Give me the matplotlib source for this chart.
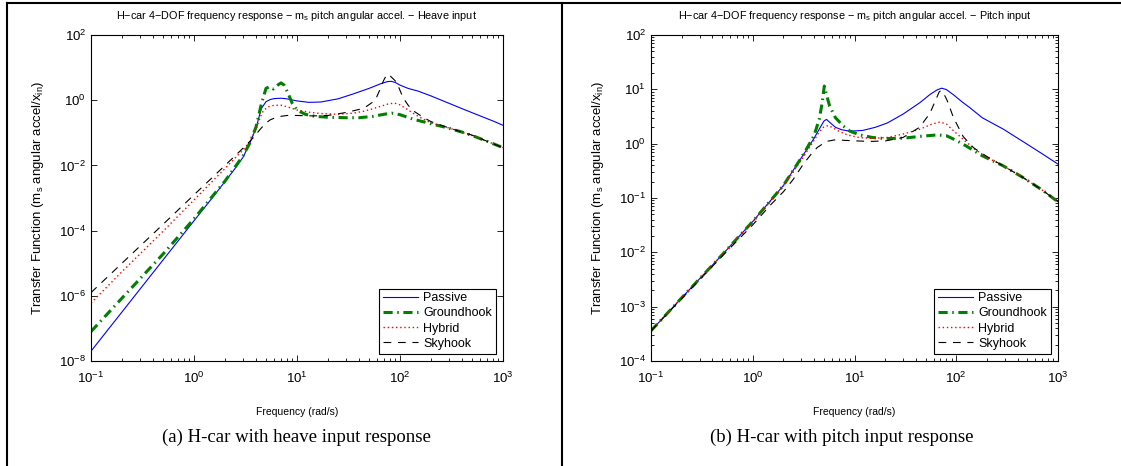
import matplotlib
matplotlib.use("Agg")
import matplotlib.pyplot as plt
from matplotlib.lines import Line2D
from matplotlib.ticker import NullLocator

plt.rcParams['font.family'] = ['Liberation Sans', 'DejaVu Sans']
plt.rcParams['mathtext.fontset'] = 'custom'
plt.rcParams['mathtext.rm'] = 'Liberation Sans'
plt.rcParams['mathtext.it'] = 'Liberation Sans:italic'

# ---- data: (a) heave input ----
heave_passive_w = [0.1, 0.2, 0.5, 1, 1.5, 2, 2.5, 3, 3.5, 4, 4.5, 5, 5.5, 6, 7, 8, 10, 13, 17, 25, 35, 50, 65, 75, 82, 90, 100, 120, 150, 200, 300, 400, 600, 800, 1000]
heave_passive_mag = [2.0e-8, 3.2e-7, 1.25e-5, 2.0e-4, 1.0e-3, 3.2e-3, 8e-3, 0.018, 0.05, 0.14, 0.55, 0.9, 1.05, 1.12, 1.15, 1.1, 0.95, 0.86, 0.88, 1.1, 1.55, 2.3, 3.2, 3.7, 3.8, 3.5, 2.9, 2.3, 1.9, 1.35, 0.8, 0.55, 0.33, 0.23, 0.17]

heave_ground_w = [0.1, 0.2, 0.5, 1, 1.5, 2, 3, 3.5, 4, 4.5, 5, 5.4, 5.9, 6.5, 7, 7.5, 8.2, 9, 10, 12, 15, 20, 30, 40, 55, 70, 83, 100, 135, 200, 282, 400, 515, 700, 1000]
heave_ground_mag = [8e-8, 8.5e-7, 1.9e-5, 2.3e-4, 1.1e-3, 3.3e-3, 0.02, 0.05, 0.15, 0.75, 2.3, 2.6, 2.2, 2.9, 3.4, 2.9, 1.6, 0.8, 0.5, 0.37, 0.32, 0.3, 0.29, 0.29, 0.32, 0.37, 0.4, 0.36, 0.26, 0.19, 0.145, 0.105, 0.08, 0.055, 0.035]

heave_hybrid_w = [0.1, 0.2, 0.5, 1, 1.5, 2, 2.6, 3, 3.5, 4, 4.4, 4.7, 5.2, 6, 7, 8, 10, 13, 17, 25, 35, 45, 60, 75, 88, 100, 120, 150, 200, 300, 500, 700, 1000]
heave_hybrid_mag = [6e-7, 5.5e-6, 9.5e-5, 8.7e-4, 3.2e-3, 8e-3, 0.019, 0.03, 0.055, 0.13, 0.3, 0.47, 0.62, 0.7, 0.7, 0.63, 0.5, 0.43, 0.39, 0.37, 0.4, 0.46, 0.6, 0.75, 0.82, 0.72, 0.5, 0.32, 0.2, 0.14, 0.082, 0.055, 0.035]

heave_sky_w = [0.1, 0.2, 0.5, 1, 1.5, 2, 2.6, 3, 3.5, 4, 4.5, 5, 5.5, 6.5, 8, 10, 14.4, 20, 30, 40, 47.5, 55, 59, 65, 69, 73, 77, 82, 88, 93, 100, 107, 120, 135, 160, 182, 200, 300, 400, 500, 700, 1000]
heave_sky_mag = [1.25e-6, 1.0e-5, 1.55e-4, 1.25e-3, 4.2e-3, 0.01, 0.022, 0.034, 0.055, 0.09, 0.14, 0.2, 0.25, 0.31, 0.34, 0.34, 0.33, 0.34, 0.42, 0.52, 0.65, 0.9, 1.2, 2.4, 3.9, 5.5, 6.3, 5.2, 4.2, 3.5, 2.0, 1.2, 0.7, 0.47, 0.33, 0.26, 0.22, 0.14, 0.105, 0.085, 0.055, 0.035]

# ---- data: (b) pitch input ----
pitch_passive_w = [0.1, 0.2, 0.5, 1, 1.5, 2, 3, 3.5, 4, 4.5, 5, 5.3, 5.8, 6.5, 7.5, 9, 12, 16, 21, 30, 44, 55, 65, 72, 80, 95, 115, 136, 180, 290, 450, 700, 1000]
pitch_passive_mag = [3.6e-4, 1.45e-3, 9e-3, 0.037, 0.09, 0.17, 0.55, 0.85, 1.25, 1.85, 2.6, 2.8, 2.4, 2.0, 1.8, 1.7, 1.75, 2.0, 2.4, 3.5, 5.7, 8.0, 9.8, 10.5, 9.9, 7.8, 5.8, 4.6, 3.0, 1.85, 1.1, 0.65, 0.42]

pitch_ground_w = [0.1, 0.2, 0.5, 1, 1.5, 2, 3, 3.5, 4, 4.5, 4.8, 5.05, 5.3, 5.7, 6.5, 7.8, 9, 11.3, 15, 20, 30, 44, 65, 80, 100, 126, 180, 290, 450, 700, 1000]
pitch_ground_mag = [3.6e-4, 1.45e-3, 9e-3, 0.037, 0.09, 0.17, 0.55, 0.9, 1.4, 2.8, 5.5, 11.5, 8.0, 4.9, 3.0, 2.1, 1.7, 1.45, 1.3, 1.24, 1.26, 1.36, 1.45, 1.4, 1.15, 0.9, 0.6, 0.39, 0.24, 0.14, 0.085]

pitch_hybrid_w = [0.1, 0.2, 0.5, 1, 1.5, 2, 3, 3.5, 4, 4.5, 5, 5.5, 6, 7, 8.5, 11, 15, 21, 30, 44, 58, 69, 80, 95, 117, 150, 200, 290, 450, 700, 1000]
pitch_hybrid_mag = [3.6e-4, 1.45e-3, 9e-3, 0.036, 0.088, 0.165, 0.5, 0.78, 1.15, 1.65, 2.05, 2.15, 2.0, 1.7, 1.45, 1.3, 1.25, 1.3, 1.5, 1.85, 2.3, 2.5, 2.3, 1.7, 1.2, 0.8, 0.56, 0.39, 0.24, 0.14, 0.085]

pitch_sky_w = [0.1, 0.2, 0.5, 1, 1.5, 2, 2.5, 3.14, 3.7, 4.3, 5.3, 6.5, 8, 11, 14, 20, 30, 43.6, 55, 62, 68, 71, 75, 81.5, 94, 117, 148, 200, 290, 450, 700, 1000]
pitch_sky_mag = [3.6e-4, 1.4e-3, 8.5e-3, 0.032, 0.075, 0.13, 0.22, 0.42, 0.62, 0.85, 1.1, 1.18, 1.15, 1.12, 1.1, 1.12, 1.3, 2.0, 3.6, 6.0, 9.0, 9.5, 8.5, 6.2, 3.0, 1.35, 0.84, 0.58, 0.39, 0.24, 0.14, 0.085]

labels = ['Passive', 'Groundhook', 'Hybrid', 'Skyhook']
titles = ['H\u2212car 4\u2212DOF frequency response \u2212 m$\\mathregular{_s}$ pitch angular accel. \u2212 Heave input',
          'H\u2212car 4\u2212DOF frequency response \u2212 m$\\mathregular{_s}$ pitch angular accel. \u2212 Pitch input']
captions = ['(a) H-car with heave input response', '(b) H-car with pitch input response']

W, H = 1121, 466
fig = plt.figure(figsize=(W / 100, H / 100), dpi=100)

def add_ax(x0, x1, y0, y1):
    return fig.add_axes([x0 / W, 1 - y1 / H, (x1 - x0) / W, (y1 - y0) / H])

ax1 = add_ax(91, 503, 35, 361)
ax2 = add_ax(651, 1058, 35, 361)

styles = [dict(color='#0000ff', lw=0.8, ls='-'),
          dict(color='#008000', lw=2.2, ls=(0, (3, 1.5, 0.5, 1.5))),
          dict(color='#ff0000', lw=1.0, ls=(0, (1, 2))),
          dict(color='black', lw=0.8, ls=(0, (7, 6)))]

heave = [(heave_passive_w, heave_passive_mag), (heave_ground_w, heave_ground_mag),
         (heave_hybrid_w, heave_hybrid_mag), (heave_sky_w, heave_sky_mag)]
pitch = [(pitch_passive_w, pitch_passive_mag), (pitch_ground_w, pitch_ground_mag),
         (pitch_hybrid_w, pitch_hybrid_mag), (pitch_sky_w, pitch_sky_mag)]

for ax, curves in [(ax1, heave), (ax2, pitch)]:
    for (w, m), st, lab in zip(curves, styles, labels):
        ax.loglog(w, m, label=lab, **st)

ax1.set_ylim(1e-8, 1e2)
ax1.set_yticks([1e-8, 1e-6, 1e-4, 1e-2, 1e0, 1e2])
ax1.yaxis.set_minor_locator(NullLocator())
ax2.set_ylim(1e-4, 1e2)

for ax, title in zip([ax1, ax2], titles):
    ax.set_xlim(0.1, 1000)
    ax.tick_params(which='both', direction='in', top=True, right=True, labelsize=9.5, width=0.6)
    ax.tick_params(which='major', length=4)
    ax.tick_params(axis='x', which='major', pad=7)
    ax.tick_params(which='minor', length=2)
    for s in ax.spines.values():
        s.set_linewidth(0.8)
    ax.text(0.5, 1.058, title, transform=ax.transAxes, ha='center', va='center', fontsize=7.8)
    ax.set_xlabel('Frequency (rad/s)', fontsize=7.5)
    ax.xaxis.set_label_coords(0.5, -0.14)
    ax.set_ylabel('Transfer Function (m$\\mathregular{_s}$ angular accel/x$\\mathregular{_{in}}$)', fontsize=9.5)
    ax.yaxis.set_label_coords(-0.11, 0.5)
    leg = ax.legend(loc='lower right', fontsize=9, handlelength=2.8, labelspacing=0.25,
                    borderaxespad=0.6, fancybox=False, framealpha=1, edgecolor='black',
                    borderpad=0.3, handletextpad=0.4)
    leg.get_frame().set_linewidth(0.8)

for cx, cap in zip([296, 842], captions):
    fig.text(cx / W, 1 - 437 / H, cap, ha='center', va='center',
             fontsize=13.5, family='Liberation Serif')

# table borders
for (x0, y0, x1, y1) in [(7, 3, W, 3), (7, 3, 7, H), (562, 3, 562, H)]:
    fig.add_artist(Line2D([x0 / W, x1 / W], [1 - y0 / H, 1 - y1 / H],
                          transform=fig.transFigure, color='black', lw=1.5))

fig.savefig('out.png', dpi=100)
